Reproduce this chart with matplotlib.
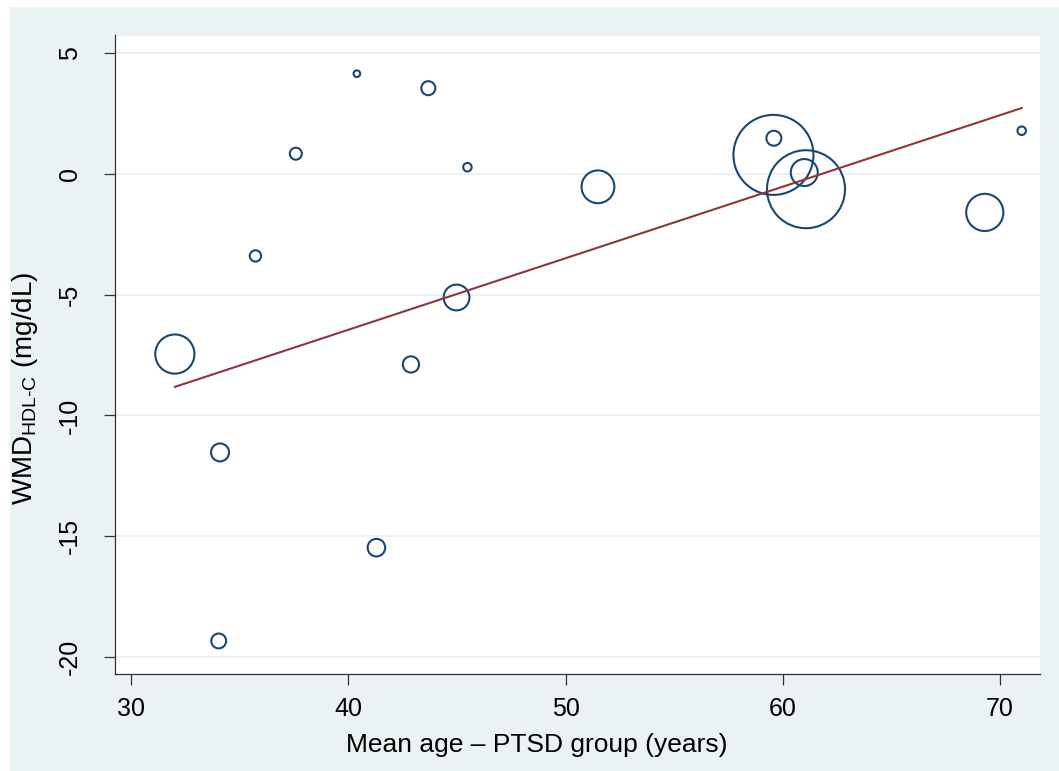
import matplotlib
matplotlib.use("Agg")
import matplotlib.pyplot as plt
from matplotlib.patches import Rectangle
import numpy as np

plt.rcParams['font.family'] = ['Liberation Sans', 'DejaVu Sans']
plt.rcParams['mathtext.fontset'] = 'custom'
plt.rcParams['mathtext.rm'] = 'Liberation Sans'
plt.rcParams['mathtext.it'] = 'Liberation Sans:italic'
plt.rcParams['mathtext.bf'] = 'Liberation Sans:bold'

# Data: mean age of PTSD group (x), WMD in HDL-C (y), study weight (bubble area)
mean_age = [40.39, 43.68, 37.58, 45.48, 35.72, 44.98, 32.01, 42.88, 34.09,
            41.29, 34.03, 51.49, 59.57, 59.59, 60.99, 61.07, 69.30, 71.00]
wmd = [4.14, 3.54, 0.83, 0.27, -3.40, -5.12, -7.46, -7.89, -11.53,
       -15.47, -19.33, -0.54, 0.78, 1.47, 0.05, -0.64, -1.60, 1.78]
weights = [11, 49, 36, 18, 32, 166, 384, 66, 81,
           77, 55, 269, 1600, 56, 182, 1521, 346, 18]

# meta-regression fit
intercept = -18.29
slope = 0.2959

x_ticks = [30, 40, 50, 60, 70]
y_ticks = [-20, -15, -10, -5, 0, 5]

navy = '#1A476F'
maroon = '#90353B'
bg = '#EAF2F3'

fig = plt.figure(figsize=(10.59, 7.71), dpi=100)
fig.patch.set_facecolor('white')
fig.add_artist(Rectangle((10 / 1059, 0), 1 - 10 / 1059, 1 - 7 / 771,
                         transform=fig.transFigure, facecolor=bg,
                         edgecolor='none', zorder=0))

ax = fig.add_axes([114.9 / 1059, (771 - 674.3) / 771,
                   (1039.5 - 114.9) / 1059, (674.3 - 35.5) / 771])
ax.set_facecolor('white')
ax.set_zorder(1)

ax.set_xlim(29.25, 71.82)
ax.set_ylim(-20.71, 5.72)

for yt in y_ticks:
    ax.axhline(yt, color=bg, lw=1.4, zorder=1)

sizes = [2.0736 * w for w in weights]
ax.scatter(mean_age, wmd, s=sizes, facecolors='none', edgecolors=navy,
           linewidths=1.5, zorder=3)

xl = np.array([min(mean_age), max(mean_age)])
ax.plot(xl, intercept + slope * xl, color=maroon, lw=1.5, zorder=4)

ax.set_xticks(x_ticks)
ax.set_yticks(y_ticks)
ax.set_xticklabels([str(v) for v in x_ticks])
ax.set_yticklabels([str(v) for v in y_ticks])

for s in ['top', 'right']:
    ax.spines[s].set_visible(False)
for s in ['left', 'bottom']:
    ax.spines[s].set_color('#333333')
    ax.spines[s].set_linewidth(0.9)

ax.tick_params(axis='both', direction='out', length=8, width=0.9,
               color='#333333', labelsize=18, labelcolor='black')
ax.tick_params(axis='x', pad=8)
ax.tick_params(axis='y', pad=16)
for lab in ax.get_yticklabels():
    lab.set_rotation(90)
    lab.set_va('center')
    lab.set_ha('right')

ax.set_xlabel('Mean age \u2013 PTSD group (years)', fontsize=19,
              va='baseline', ha='center')
ax.xaxis.set_label_coords((537 - 114.9) / 924.6, (674.3 - 751.7) / 638.8)
ax.set_ylabel(r'WMD$_{\mathregular{HDL\text{-}C}}$ (mg/dL)', fontsize=20,
              va='center', ha='center')
ax.yaxis.set_label_coords((25 - 114.9) / 924.6, (674.3 - 388) / 638.8)

fig.savefig('out.png', dpi=100, facecolor=fig.get_facecolor())
